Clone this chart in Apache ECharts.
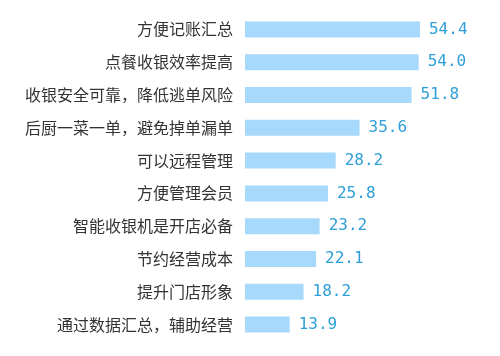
<!DOCTYPE html>
<html><head><meta charset="utf-8">
<script src="https://cdn.jsdelivr.net/npm/echarts@6/dist/echarts.min.js"></script>
<style>html,body{margin:0;padding:0;background:#fff}#c{width:500px;height:356px}</style>
</head><body><div id="c"></div>
<script>
const categories = ["方便记账汇总","点餐收银效率提高","收银安全可靠，降低逃单风险","后厨一菜一单，避免掉单漏单","可以远程管理","方便管理会员","智能收银机是开店必备","节约经营成本","提升门店形象","通过数据汇总，辅助经营"];
const values = [54.4,54.0,51.8,35.6,28.2,25.8,23.2,22.1,18.2,13.9];
const chart = echarts.init(document.getElementById('c'));
chart.setOption({
  animation:false,
  grid:{left:245,right:62,top:13,bottom:15,containLabel:false},
  xAxis:{type:'value',min:0,max:60,show:false},
  yAxis:{type:'category',inverse:true,data:categories,
    axisLine:{show:false},axisTick:{show:false},
    axisLabel:{margin:12,color:'#333',fontSize:16,fontFamily:'"Noto Sans CJK SC", sans-serif'}},
  series:[{type:'bar',data:values,barWidth:16,
    itemStyle:{color:'#a6d9fb'},
    label:{show:true,position:'right',distance:9,color:'#2e9fd8',fontSize:16,
      fontFamily:'"DejaVu Sans Mono", monospace',
      formatter:p=>p.value.toFixed(1)}}]
});
</script></body></html>
